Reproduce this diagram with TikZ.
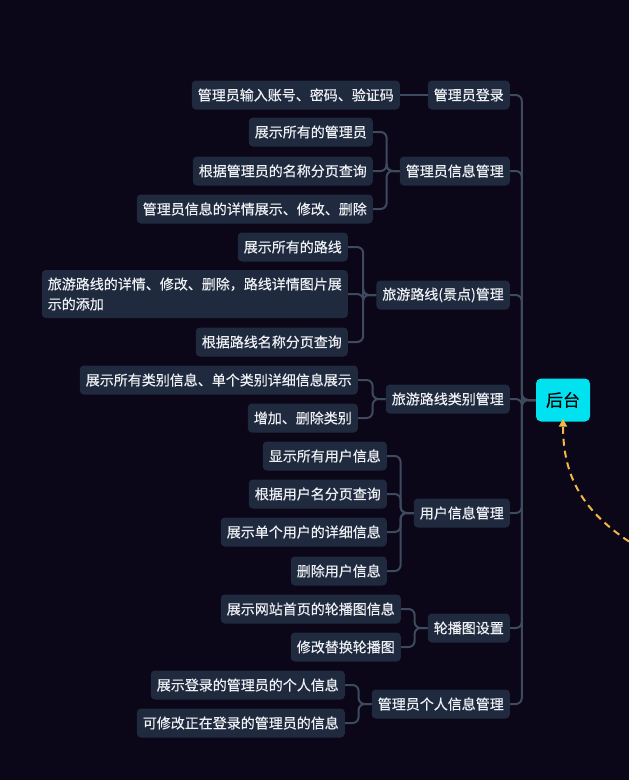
\documentclass[tikz,border=0pt]{standalone}
\usepackage{fontspec}
\setmainfont{Noto Sans CJK SC}[FakeBold=0.4]
\usetikzlibrary{arrows.meta}
\definecolor{bgc}{HTML}{0B0618}
\definecolor{boxc}{HTML}{1F2A3E}
\definecolor{linkc}{HTML}{3E4A5E}
\definecolor{rootc}{HTML}{00E2F0}
\definecolor{txtc}{HTML}{EEF0F4}
\definecolor{arrowc}{HTML}{F2B845}
\tikzset{
  x=1pt, y=-1pt,
  item/.style={fill=boxc, text=txtc, rounded corners=4pt, inner xsep=6pt,
    inner ysep=0pt, minimum height=29pt, font=\fontsize{14}{18}\selectfont},
  rootbox/.style={fill=rootc, text=black, rounded corners=5pt, minimum width=54pt,
    minimum height=43pt, font=\fontsize{17}{20}\selectfont},
  link/.style={draw=linkc, line width=2pt, rounded corners=6pt},
  flow/.style={draw=arrowc, line width=2pt, dash pattern=on 7pt off 5pt,
    -{Triangle[length=8pt,width=8pt]}}
}
\begin{document}
\begin{tikzpicture}
\fill[bgc] (0,0) rectangle (629,780);
\useasboundingbox (0,0) rectangle (629,780);
\clip (0,0) rectangle (629,780);

% root
\node[rootbox] (root) at (563,400) {后台};

% first level
\node[item, anchor=east] (p1) at (510,95) {管理员登录};
\node[item, anchor=east] (p2) at (510,171) {管理员信息管理};
\node[item, anchor=east] (p3) at (510,295) {旅游路线(景点)管理};
\node[item, anchor=east] (p4) at (510,399) {旅游路线类别管理};
\node[item, anchor=east] (p5) at (510,513) {用户信息管理};
\node[item, anchor=east] (p6) at (510,628) {轮播图设置};
\node[item, anchor=east] (p7) at (510,704) {管理员个人信息管理};

% second level
\node[item, anchor=east] (c11) at (400,95) {管理员输入账号、密码、验证码};

\node[item, anchor=east] (c21) at (373,132) {展示所有的管理员};
\node[item, anchor=east] (c22) at (373,171) {根据管理员的名称分页查询};
\node[item, anchor=east] (c23) at (373,209) {管理员信息的详情展示、修改、删除};

\node[item, anchor=east] (c31) at (348,247) {展示所有的路线};
\node[item, anchor=east, align=left, minimum height=48pt,
  font=\fontsize{14}{20}\selectfont] (c32) at (348,294)
  {旅游路线的详情、修改、删除，路线详情图片展\\示的添加};
\node[item, anchor=east] (c33) at (348,342) {根据路线名称分页查询};

\node[item, anchor=east] (c41) at (358,380) {展示所有类别信息、单个类别详细信息展示};
\node[item, anchor=east] (c42) at (358,418) {增加、删除类别};

\node[item, anchor=east] (c51) at (387,456) {显示所有用户信息};
\node[item, anchor=east] (c52) at (387,494) {根据用户名分页查询};
\node[item, anchor=east] (c53) at (387,532) {展示单个用户的详细信息};
\node[item, anchor=east] (c54) at (387,571) {删除用户信息};

\node[item, anchor=east] (c61) at (401,609) {展示网站首页的轮播图信息};
\node[item, anchor=east] (c62) at (401,647) {修改替换轮播图};

\node[item, anchor=east] (c71) at (345,685) {展示登录的管理员的个人信息};
\node[item, anchor=east] (c72) at (345,723) {可修改正在登录的管理员的信息};

% branches into the root
\foreach \p in {p1,p2,p3,p4,p5,p6,p7}
  \draw[link] (\p.east) -| ([xshift=-14pt]root.west) -- (root.west);

% leaves into their groups
\draw[link] (c11.east) -- (p1.west);
\foreach \c in {c21,c22,c23}
  \draw[link] (\c.east) -| ([xshift=-13pt]p2.west) -- (p2.west);
\foreach \c in {c31,c32,c33}
  \draw[link] (\c.east) -| ([xshift=-13pt]p3.west) -- (p3.west);
\foreach \c in {c41,c42}
  \draw[link] (\c.east) -| ([xshift=-13pt]p4.west) -- (p4.west);
\foreach \c in {c51,c52,c53,c54}
  \draw[link] (\c.east) -| ([xshift=-13pt]p5.west) -- (p5.west);
\foreach \c in {c61,c62}
  \draw[link] (\c.east) -| ([xshift=-13pt]p6.west) -- (p6.west);
\foreach \c in {c71,c72}
  \draw[link] (\c.east) -| ([xshift=-13pt]p7.west) -- (p7.west);

% incoming dashed flow
\coordinate (src) at (660,560);
\draw[flow] (src) .. controls (595,525) and (563,490) .. ([yshift=3pt]root.south);
\end{tikzpicture}
\end{document}
